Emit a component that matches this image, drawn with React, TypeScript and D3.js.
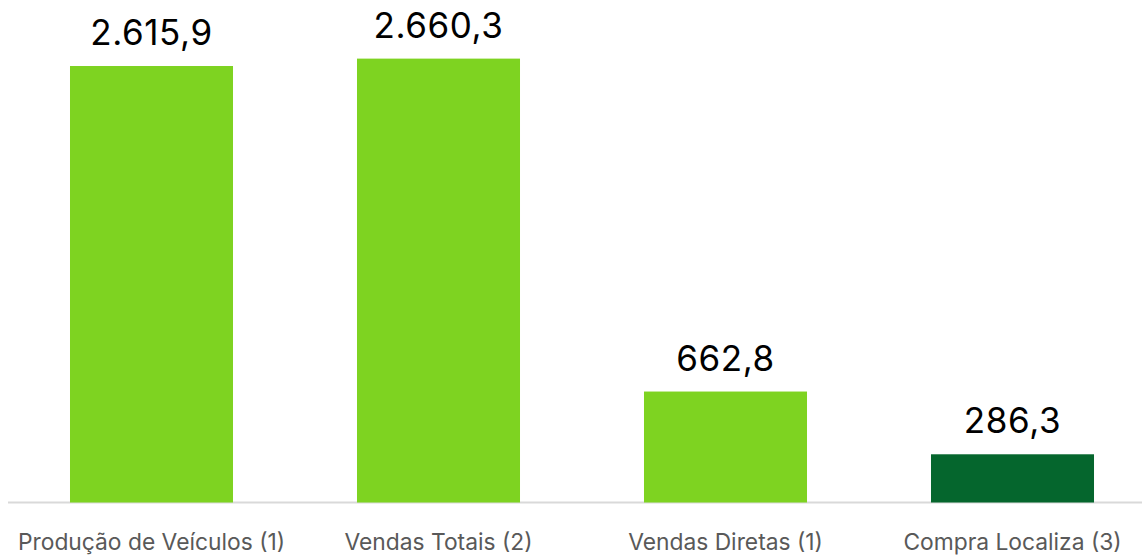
import React from "react";
import * as d3 from "d3";

const categories = ["Produção de Veículos (1)", "Vendas Totais (2)", "Vendas Diretas (1)", "Compra Localiza (3)"];
const values = [2615.9, 2660.3, 662.8, 286.3];
const valueLabels = ["2.615,9", "2.660,3", "662,8", "286,3"];
const barColors = ["#7ED321", "#7ED321", "#7ED321", "#05662D"];

const W = 1142;
const H = 557;

export default function App() {
  const x = d3.scaleBand<string>().domain(categories).range([8, 1156]).paddingInner(0.432).paddingOuter(0.216);
  const y = d3.scaleLinear().domain([0, 3000]).range([502, 2]);
  return (
    <svg width={W} height={H} style={{ position: "absolute", left: 0, top: 0 }}>
      <line x1={8} x2={W} y1={502.5} y2={502.5} stroke="#d9d9d9" strokeWidth={2} />
      {categories.map((c, i) => (
        <g key={c}>
          <rect x={x(c)} y={y(values[i])} width={x.bandwidth()} height={y(0) - y(values[i]) + 0.5} fill={barColors[i]} />
          <text x={x(c)! + x.bandwidth() / 2} y={y(values[i]) - 21} textAnchor="middle" fontFamily="Inter, sans-serif" fontSize={35} letterSpacing={0.6} fill="#000">
            {valueLabels[i]}
          </text>
          <text x={x(c)! + x.bandwidth() / 2} y={550} textAnchor="middle" fontFamily="Inter, sans-serif" fontSize={22.8} fill="#595959">
            {c}
          </text>
        </g>
      ))}
    </svg>
  );
}
